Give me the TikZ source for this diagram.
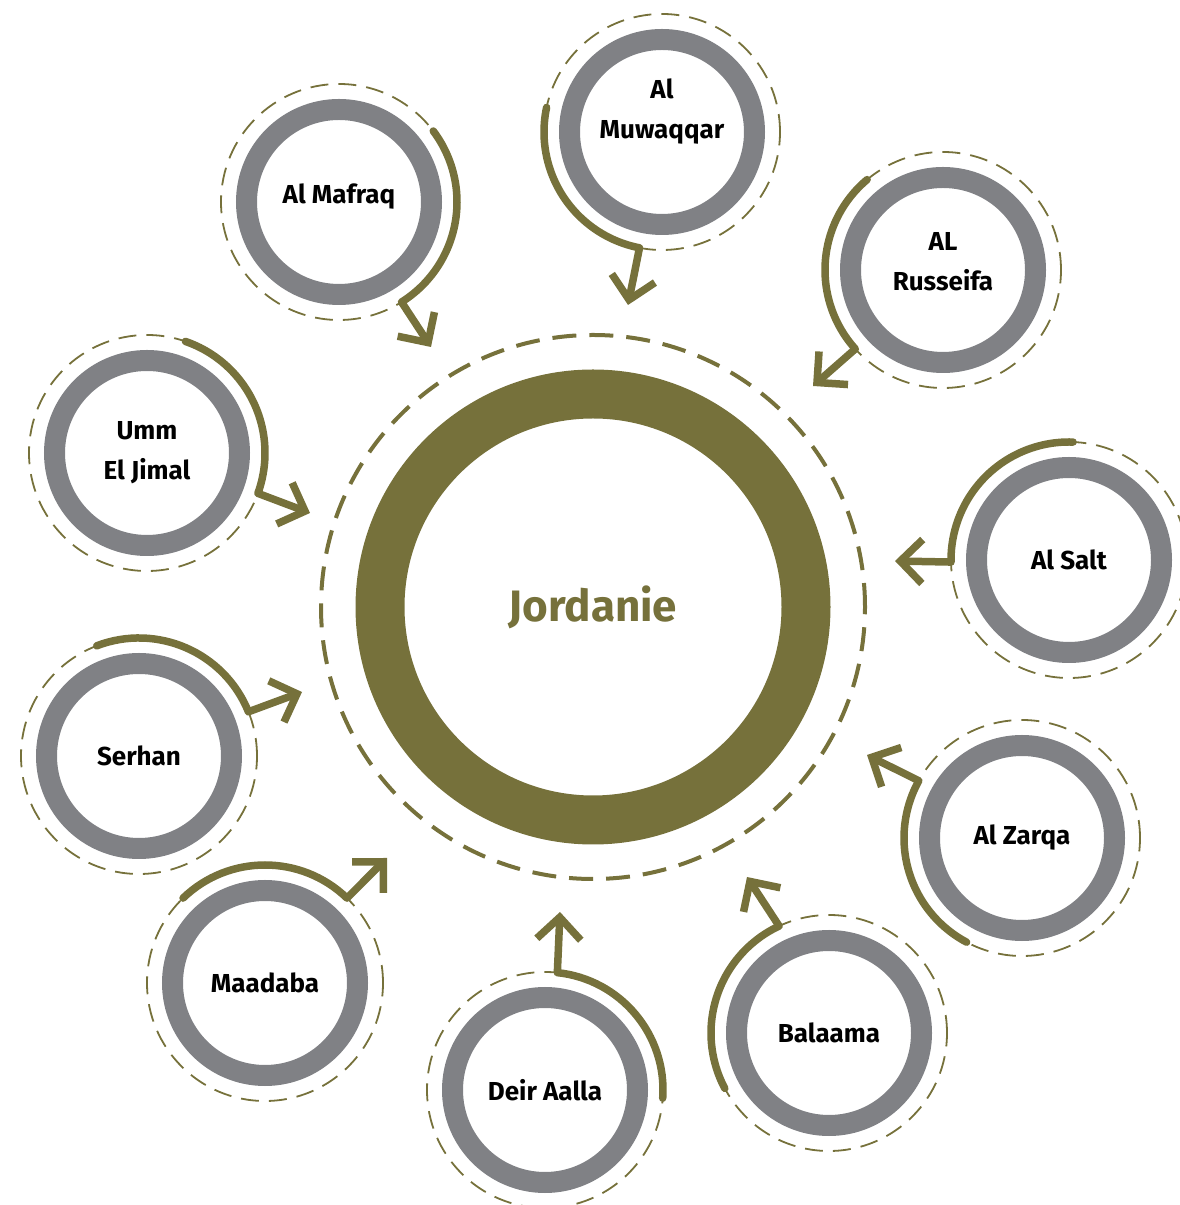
\documentclass[tikz,border=0pt]{standalone}
\usepackage{fontspec}
\setmainfont{Fira Sans}
\usetikzlibrary{arrows.meta,calc}
\definecolor{jorOlive}{HTML}{76713B}
\definecolor{cityGray}{HTML}{808185}
\tikzset{
  city/.style={circle, draw=cityGray, line width=21pt, minimum size=185pt, inner sep=0pt},
  cityname/.style={align=center, inner sep=0pt, font=\fontsize{26}{40}\selectfont\bfseries},
  halo/.style={draw=jorOlive, line width=1.8pt, dash pattern=on 18pt off 10pt},
  link/.style={draw=jorOlive, line width=7.5pt, line cap=round},
  pointer/.style={draw=jorOlive, line width=7.5pt, -{Straight Barb[length=22pt,width=44pt]}},
}
\begin{document}
\begin{tikzpicture}[x=1pt,y=1pt]
  \useasboundingbox (0,0) rectangle (1179,1205);
  % central country ring
  \node[circle, draw=jorOlive, line width=49pt, minimum size=426pt, text=jorOlive,
        font=\fontsize{44}{48}\selectfont\bfseries] (jordan) at (593,598) {Jordanie};
  \draw[jorOlive, line width=4pt, dash pattern=on 24pt off 13pt] (jordan) circle (272);
  % cities: name/x/y/arc from/arc to/tip x/tip y/text shift/label
  \foreach \n/\x/\y/\a/\b/\tx/\ty/\dy/\lbl in {
      mafraq/339/1003/37/-58/431/858/5/{Al Mafraq},
      muwaqqar/662/1073/168/259/628/900/20/{Al\\Muwaqqar},
      russeifa/943/935/130/222/813/819/8/{AL\\Russeifa},
      salt/1069/645/88/181/895/644/0/{Al Salt},
      zarqa/1022/367/242/151/867/450/0/{Al Zarqa},
      balaama/829/172/208/115/747/328/0/{Balaama},
      deir/545/115/-4/84/560/293/0/{Deir Aalla},
      maadaba/265/222/134/46/387/347/0/{Maadaba},
      serhan/139/449/111/22/302/513/0/{Serhan},
      umm/147/752/71/-20/310/692/0/{Umm\\El Jimal}}
  {
    \node[city] (\n) at (\x,\y) {};
    \node[cityname] (\n-l) at ($(\n)+(0,\dy)$) {\lbl};
    \draw[halo] (\n) circle (118);
    \draw[link] ($(\n)+(\a:118)$) arc[start angle=\a, end angle=\b, radius=118] coordinate (\n-s);
    \coordinate (\n-t) at (\tx,\ty);
    \draw[pointer] (\n-s) -- (\n-t);
  }
\end{tikzpicture}
\end{document}
